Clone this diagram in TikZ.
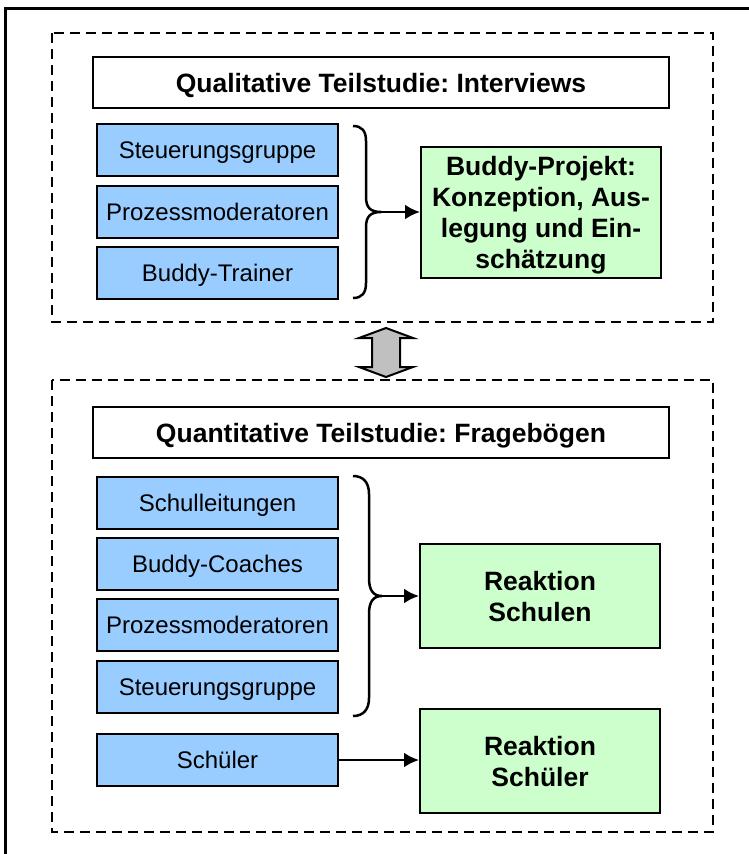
\documentclass[tikz,border=0pt]{standalone}
\usepackage{fontspec}
\setmainfont{Liberation Sans}
\usetikzlibrary{arrows.meta}
\frenchspacing
\definecolor{boxblue}{HTML}{99CCFF}
\definecolor{boxgreen}{HTML}{CCFFCC}
\definecolor{arrgray}{HTML}{C0C0C0}
\tikzset{
  bluebox/.style={draw=black, line width=2pt, fill=boxblue, minimum width=241pt, minimum height=52pt, inner sep=0pt, text depth=0pt, font=\fontsize{24}{28}\selectfont},
  greenbox/.style={draw=black, line width=2pt, fill=boxgreen, minimum width=240pt, inner sep=0pt, text depth=0pt, align=center, font=\fontsize{26.5}{31}\selectfont\bfseries},
  titlebox/.style={draw=black, line width=2pt, fill=white, minimum width=576pt, minimum height=51pt, inner sep=0pt, text depth=0pt, font=\fontsize{26.5}{31}\selectfont\bfseries},
  dashbox/.style={draw=black, line width=2.5pt, dash pattern=on 10pt off 6pt},
  bracestyle/.style={draw=black, line width=2.5pt},
  arr/.style={draw=black, line width=2.5pt, -{Latex[length=15pt,width=15pt]}},
}
\begin{document}
\begin{tikzpicture}[x=1pt,y=-1pt]
\useasboundingbox (0,0) rectangle (749,854);
% outer frame
\draw[line width=3pt] (5,870) -- (5,8) -- (760,8);
% dashed groups
\draw[dashbox] (52,33) rectangle (713,322);
\draw[dashbox] (52,380) rectangle (713,832);
% top part
\node[titlebox] (t1) at (381,82.5) {Qualitative Teilstudie: Interviews};
\node[bluebox] (a1) at (217.5,150) {Steuerungsgruppe};
\node[bluebox] (a2) at (217.5,211.5) {Prozessmoderatoren};
\node[bluebox] (a3) at (217.5,273) {Buddy-Trainer};
\node[greenbox, minimum height=131pt] (g1) at (541,212.5) {Buddy-Projekt:\\Konzeption, Aus-\\legung und Ein-\\schätzung};
\coordinate (b1) at (381,212);
\draw[bracestyle] (353,126) .. controls (362,126) and (366,131) .. (366,141) -- (366,197)
  .. controls (366,207) and (370,212) .. (b1)
  .. controls (370,212) and (366,217) .. (366,227) -- (366,283)
  .. controls (366,293) and (362,298) .. (353,298);
\draw[arr] (b1) -- (b1 -| g1.west);
% double arrow
\draw[line width=2pt, fill=arrgray, line join=miter]
  (386,328) -- (413,338) -- (400,338) -- (400,367) -- (413,367) -- (386,377)
  -- (359,367) -- (372,367) -- (372,338) -- (359,338) -- cycle;
% bottom part
\node[titlebox] (t2) at (381,432.5) {Quantitative Teilstudie: Fragebögen};
\node[bluebox] (c1) at (217.5,503) {Schulleitungen};
\node[bluebox] (c2) at (217.5,564) {Buddy-Coaches};
\node[bluebox] (c3) at (217.5,625) {Prozessmoderatoren};
\node[bluebox] (c4) at (217.5,687) {Steuerungsgruppe};
\node[bluebox] (c5) at (217.5,760) {Schüler};
\node[greenbox, minimum height=104pt] (g2) at (540,596) {Reaktion\\Schulen};
\node[greenbox, minimum height=104pt] (g3) at (540,761) {Reaktion\\Schüler};
\coordinate (b2) at (382,596);
\draw[bracestyle] (353,476) .. controls (363,476) and (369,482) .. (369,494) -- (369,578)
  .. controls (369,590) and (373,596) .. (b2)
  .. controls (373,596) and (369,602) .. (369,614) -- (369,698)
  .. controls (369,710) and (363,716) .. (353,716);
\draw[arr] (b2) -- (b2 -| g2.west);
\draw[arr] (c5.east) -- (c5.east -| g3.west);
\end{tikzpicture}
\end{document}
